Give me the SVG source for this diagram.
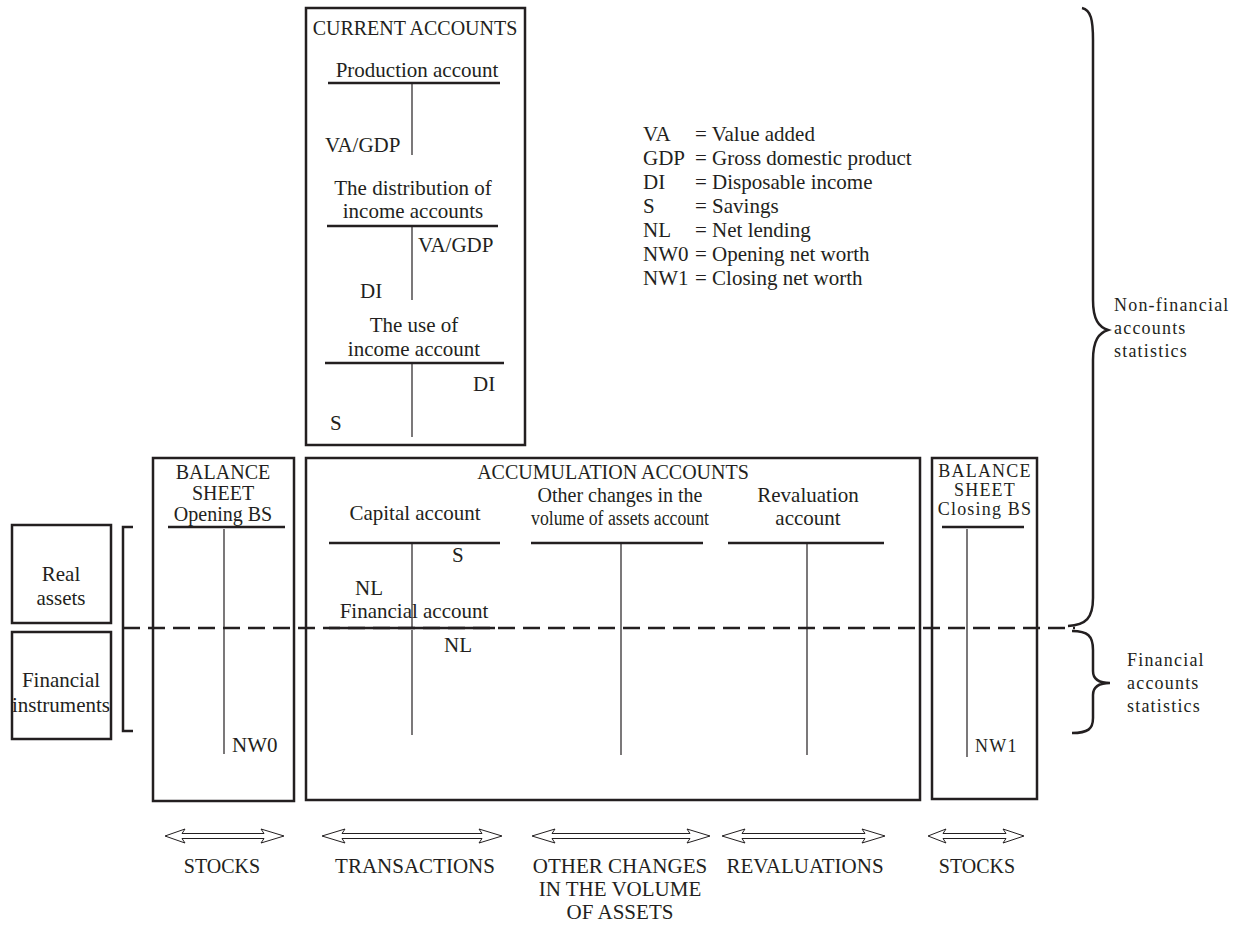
<svg xmlns="http://www.w3.org/2000/svg" width="1239" height="925" viewBox="0 0 1239 925">
<style>
.t{font-family:"Liberation Serif","Times New Roman",serif;font-size:21px;fill:#231f20}
.m{text-anchor:middle}
.s{font-size:20px}
.w{font-size:18px;letter-spacing:1.2px}
.box{fill:none;stroke:#231f20;stroke-width:2.5}
.h{stroke:#231f20;stroke-width:2.5;fill:none}
.v{stroke:#231f20;stroke-width:1.2;fill:none}
.arr{fill:#fff;stroke:#231f20;stroke-width:1}
.dash{stroke:#231f20;stroke-width:2.5;stroke-dasharray:17 8;fill:none}
</style>
<rect width="1239" height="925" fill="#fff"/>

<g id="current-accounts">
<rect class="box" x="306" y="8" width="219" height="437"/>
<text class="t s m" x="415" y="35">CURRENT ACCOUNTS</text>
<text class="t m" x="417" y="77">Production account</text>
<line class="h" x1="328" y1="83" x2="500" y2="83"/>
<line class="v" x1="412" y1="83" x2="412" y2="155"/>
<text class="t" x="325" y="152">VA/GDP</text>
<text class="t m" x="413" y="195">The distribution of</text>
<text class="t m" x="413" y="218">income accounts</text>
<line class="h" x1="327" y1="226" x2="498" y2="226"/>
<line class="v" x1="412" y1="226" x2="412" y2="300"/>
<text class="t" x="418" y="252">VA/GDP</text>
<text class="t" x="360" y="298">DI</text>
<text class="t m" x="414" y="332">The use of</text>
<text class="t m" x="414" y="356">income account</text>
<line class="h" x1="325" y1="363" x2="504" y2="363"/>
<line class="v" x1="412" y1="363" x2="412" y2="437"/>
<text class="t" x="473" y="391">DI</text>
<text class="t" x="330" y="430">S</text>
</g>

<g id="legend">
<text class="t" x="643" y="141">VA</text><text class="t" x="695" y="141">= Value added</text>
<text class="t" x="643" y="165">GDP</text><text class="t" x="695" y="165">= Gross domestic product</text>
<text class="t" x="643" y="189">DI</text><text class="t" x="695" y="189">= Disposable income</text>
<text class="t" x="643" y="213">S</text><text class="t" x="695" y="213">= Savings</text>
<text class="t" x="643" y="237">NL</text><text class="t" x="695" y="237">= Net lending</text>
<text class="t" x="643" y="261">NW0</text><text class="t" x="695" y="261">= Opening net worth</text>
<text class="t" x="643" y="285">NW1</text><text class="t" x="695" y="285">= Closing net worth</text>
</g>

<g id="real-assets">
<rect class="box" x="12" y="525" width="99" height="98"/>
<text class="t m" x="61" y="581">Real</text>
<text class="t m" x="61" y="605">assets</text>
</g>
<g id="financial-instruments">
<rect class="box" x="12" y="632" width="99" height="107"/>
<text class="t m" x="61" y="687">Financial</text>
<text class="t m" x="61" y="712">instruments</text>
</g>

<g id="opening-bs">
<rect class="box" x="153" y="458" width="141" height="343"/>
<text class="t s m" x="223" y="479">BALANCE</text>
<text class="t s m" x="223" y="500">SHEET</text>
<text class="t s m" x="223" y="521">Opening BS</text>
<line class="h" x1="168" y1="527" x2="285" y2="527"/>
<line class="v" x1="224" y1="529" x2="224" y2="754"/>
<text class="t" x="232" y="752">NW0</text>
</g>

<g id="accumulation-accounts">
<rect class="box" x="306" y="458" width="614" height="342"/>
<text class="t s m" x="613" y="479">ACCUMULATION ACCOUNTS</text>
<text class="t m" x="415" y="520">Capital account</text>
<line class="h" x1="329" y1="543" x2="500" y2="543"/>
<line class="v" x1="412" y1="543" x2="412" y2="627"/>
<text class="t" x="452" y="562">S</text>
<text class="t" x="355" y="595">NL</text>
<text class="t m" x="414" y="618">Financial account</text>
<line class="h" x1="329" y1="628" x2="495" y2="628"/>
<line class="v" x1="412" y1="630" x2="412" y2="735"/>
<text class="t" x="444" y="652">NL</text>
<text class="t s m" x="620" y="502">Other changes in the</text>
<text class="t s m" x="620" y="525" textLength="178" lengthAdjust="spacingAndGlyphs">volume of assets account</text>
<line class="h" x1="531" y1="543" x2="703" y2="543"/>
<line class="v" x1="621" y1="543" x2="621" y2="755"/>
<text class="t m" x="808" y="502">Revaluation</text>
<text class="t m" x="808" y="525">account</text>
<line class="h" x1="728" y1="543" x2="884" y2="543"/>
<line class="v" x1="807" y1="543" x2="807" y2="755"/>
</g>

<g id="closing-bs">
<rect class="box" x="932" y="458" width="105" height="341"/>
<text class="t m w" x="985" y="477">BALANCE</text>
<text class="t m w" x="985" y="496">SHEET</text>
<text class="t m w" x="985" y="515">Closing BS</text>
<line class="h" x1="942" y1="527" x2="1024" y2="527"/>
<line class="v" x1="967" y1="529" x2="967" y2="757"/>
<text class="t w" x="975" y="752">NW1</text>
</g>

<g id="connectors">
<path class="h" d="M133,527 L123,527 L123,731 L133,731" stroke-width="2"/>
<line class="dash" x1="123" y1="628" x2="1075" y2="628"/>
<path class="h" d="M1082,8 C1091,10 1093,20 1093,40 L1093,300 C1093,320 1099,327 1108,330 C1099,333 1093,340 1093,360 L1093,598 C1093,618 1086,625 1068,626"/>
<path class="h" d="M1072,631 C1088,631 1093,636 1093,650 L1093,671 C1093,679 1099,683 1110,683 C1099,683 1093,687 1093,695 L1093,718 C1093,729 1088,733 1072,733"/>
<path class="arr" d="M165,836 L185,829 L182,833.5 L264,833.5 L261,829 L284,836 L261,843 L264,838.5 L182,838.5 L185,843 Z"/>
<path class="arr" d="M322,836 L345,829 L342,833.5 L482,833.5 L479,829 L502,836 L479,843 L482,838.5 L342,838.5 L345,843 Z"/>
<path class="arr" d="M532,836 L555,829 L552,833.5 L690,833.5 L687,829 L710,836 L687,843 L690,838.5 L552,838.5 L555,843 Z"/>
<path class="arr" d="M722,836 L745,829 L742,833.5 L865,833.5 L862,829 L885,836 L862,843 L865,838.5 L742,838.5 L745,843 Z"/>
<path class="arr" d="M928,836 L946,829 L943,833.5 L1006,833.5 L1003,829 L1024,836 L1003,843 L1006,838.5 L943,838.5 L946,843 Z"/>
</g>

<g id="brace-labels">
<text class="t w" x="1114" y="311">Non-financial</text>
<text class="t w" x="1114" y="334">accounts</text>
<text class="t w" x="1114" y="357">statistics</text>
<text class="t w" x="1127" y="666">Financial</text>
<text class="t w" x="1127" y="689">accounts</text>
<text class="t w" x="1127" y="712">statistics</text>
</g>

<g id="bottom-labels">
<text class="t s m" x="222" y="873">STOCKS</text>
<text class="t m" x="415" y="873">TRANSACTIONS</text>
<text class="t m" x="620" y="873">OTHER CHANGES</text>
<text class="t m" x="620" y="896">IN THE VOLUME</text>
<text class="t m" x="620" y="919">OF ASSETS</text>
<text class="t m" x="805" y="873">REVALUATIONS</text>
<text class="t s m" x="977" y="873">STOCKS</text>
</g>
</svg>
